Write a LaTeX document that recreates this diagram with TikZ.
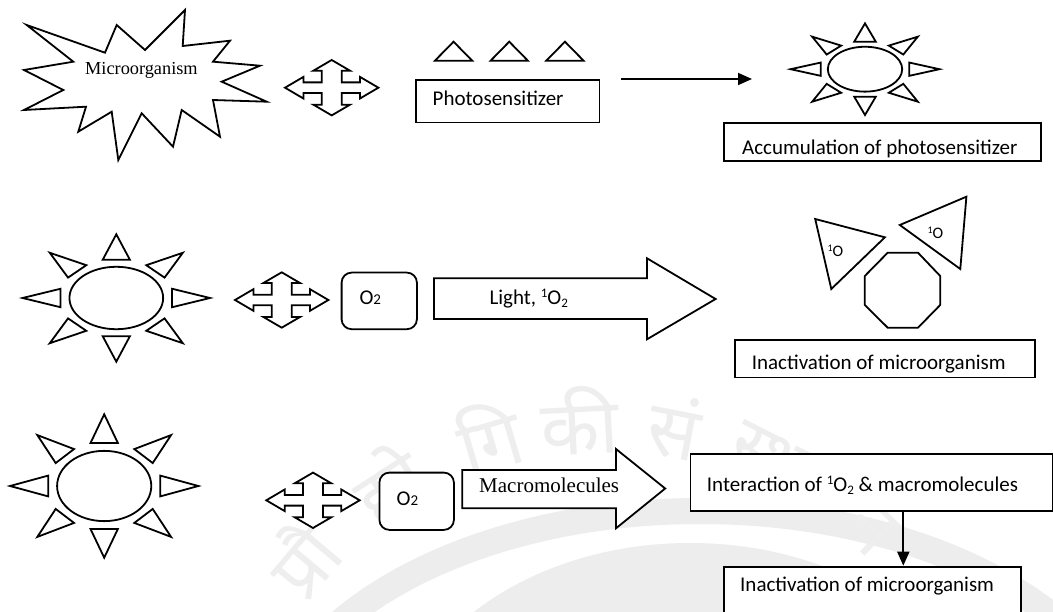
\documentclass[tikz,border=0pt]{standalone}
\usepackage{fontspec}
\setmainfont{Carlito}
\newfontfamily\romanface{Liberation Serif}
\newfontfamily\devface[Script=Devanagari]{Noto Sans}
\usetikzlibrary{arrows.meta}

% small raised "1" and lowered "2" for singlet oxygen
\newcommand\supone{\raisebox{7pt}{\fontsize{13}{13}\selectfont 1}}
\newcommand\subtwo{\raisebox{-3pt}{\fontsize{13}{13}\selectfont 2}}

\tikzset{
  shape line/.style={draw=black, line width=1.8pt, line join=miter, fill=white},
  box/.style={draw=black, line width=1.8pt, fill=white, inner sep=0pt, anchor=north west},
  txt/.style={inner sep=0pt, anchor=base west, font=\fontsize{21}{21}\selectfont},
  conn/.style={line width=1.8pt, -{Triangle[length=14pt,width=12pt]}},
  seal/.style={gray!14},
  sealtext/.style={text=gray!13, inner sep=0pt, font=\devface\fontsize{76}{76}\selectfont},
  pics/quadarrow/.style={code={
    \draw[shape line] (-46.7,0) -- (-28.3,-10.8) -- (-28.3,-5.3) -- (-10,-5.3) -- (-10,-17)
      -- (-18.3,-17) -- (0,-27.7) -- (18.3,-17) -- (10,-17) -- (10,-5.3) -- (28.3,-5.3)
      -- (28.3,-10.8) -- (46.7,0) -- (28.3,10.8) -- (28.3,5.3) -- (10,5.3) -- (10,17)
      -- (18.3,17) -- (0,27.7) -- (-18.3,17) -- (-10,17) -- (-10,5.3) -- (-28.3,5.3)
      -- (-28.3,10.8) -- cycle;
  }}
}

% sun: ellipse with eight triangular rays; centre (#1,#2), half width #3, half height #4
\newcommand\sunfigure[4]{%
  \begin{scope}[shift={(#1,#2)}, xscale=#3, yscale=#4]
    \draw[shape line] (0,0) ellipse [x radius=0.5, y radius=0.49];
    \foreach \sx in {1,-1}{
      \draw[shape line] (-0.145,\sx*0.6) -- (0.145,\sx*0.6) -- (0,\sx) -- cycle;
      \draw[shape line] (\sx*0.595,-0.145) -- (\sx*0.595,0.145) -- (\sx,0) -- cycle;
      \foreach \sy in {1,-1}{
        \draw[shape line] (\sx*0.32,\sy*0.515) -- (\sx*0.515,\sy*0.32) -- (\sx*0.71,\sy*0.71) -- cycle;
      }
    }
  \end{scope}}

\begin{document}
\begin{tikzpicture}[x=1pt, y=-1pt]
\clip (0,0) rectangle (1053,612);
\fill[white] (0,0) rectangle (1053,612);

% ---------------- faint seal in the background ----------------
\draw[seal, line width=26pt] (700,768) ellipse [x radius=437, y radius=257];
\fill[seal] (690,768) ellipse [x radius=300, y radius=225];
\foreach \ang/\syl [count=\i] in {140/{प्रौ}, 123/{द्यो}, 106.5/{गि}, 93/{की}, 79/{सं}, 63/{स्था}, 46/{न}}{
  \node[sealtext, rotate=\ang-90] (seal\i) at ({600+390*cos(\ang)},{810-390*sin(\ang)}) {\syl};
}

% ---------------- first row ----------------
\draw[shape line] (26.7,25) -- (105,52.7) -- (116.7,25) -- (145,50) -- (185,10) -- (182.7,46)
  -- (230,40.7) -- (213,61.7) -- (260,65.7) -- (221.7,81.7) -- (266.7,101.7) -- (213,100)
  -- (220,136.7) -- (181.7,110) -- (173,146.7) -- (141.7,113.3) -- (118.3,160) -- (111.7,111.7)
  -- (78.3,131.7) -- (86,106.7) -- (24,110) -- (63.3,90) -- (24,70) -- (73.3,61.7) -- cycle;
\node[txt, font=\romanface\fontsize{18.3}{18.3}\selectfont] (micro) at (85,75) {Microorganism};

\pic at (331.7,87.7) {quadarrow};

\foreach \tx in {434.9,490.6,546.3}{
  \draw[shape line] (\tx,60.7) -- (\tx+18.65,41.7) -- (\tx+37.3,60.7) -- cycle;
}
\node[box, minimum width=183.6pt, minimum height=42.7pt] (photo) at (415,79) {};
\node[txt] (phototxt) at (432.5,106) {Photosensitizer};

\coordinate (rowonestart) at (621,79);
\coordinate (rowoneend) at (752,79);
\draw[conn] (rowonestart) -- (rowoneend);

\sunfigure{865}{69.2}{74.4}{45.8}
\node[box, minimum width=317pt, minimum height=37.5pt] (accum) at (723,122.3) {};
\begin{scope}
  \clip (accum.north west) rectangle (accum.south east);
  \node[txt] (accumtxt) at (742,155) {Accumulation of photosensitizer};
\end{scope}

% ---------------- second row ----------------
\sunfigure{116.3}{298}{93.7}{63.7}
\pic at (281.7,300) {quadarrow};
\node[box, rounded corners=10pt, minimum width=75.3pt, minimum height=56.6pt] (oxa) at (340.7,271.7) {};
\node[txt] (oxatxt) at (359.3,305) {O\fontsize{15}{15}\selectfont 2};

\draw[shape line] (434,278.3) -- (647,278.3) -- (647,258.3) -- (715.6,299) -- (647,339.3)
  -- (647,319) -- (434,319) -- cycle;
\node[txt] (lighttxt) at (489.3,304.3) {Light, \supone O\subtwo};

\draw[shape line] (815.2,219) -- (884.9,237.3) -- (831.3,289) -- cycle;
\draw[shape line] (899.8,225) -- (966.4,196.7) -- (960.3,269) -- cycle;
\draw[shape line] (887.7,252.7) -- (918,252.7) -- (940.2,276) -- (940.2,305) -- (918,327.7)
  -- (887.7,327.7) -- (864.8,305) -- (864.8,276) -- cycle;
\node[txt, font=\fontsize{16}{16}\selectfont] (oleft) at (827.3,256.7)
  {\raisebox{5pt}{\fontsize{10}{10}\selectfont 1}O};
\node[txt, font=\fontsize{16}{16}\selectfont] (oright) at (927.3,238.3)
  {\raisebox{5pt}{\fontsize{10}{10}\selectfont 1}O};

\node[box, minimum width=300pt, minimum height=37.4pt] (inacta) at (733.7,339.3) {};
\begin{scope}
  \clip (inacta.north west) rectangle (inacta.south east);
  \node[txt] (inactatxt) at (751.6,370) {Inactivation of microorganism};
\end{scope}

% ---------------- third row ----------------
\sunfigure{104.2}{486}{94.2}{71.7}
\pic at (313,500.3) {quadarrow};
\node[box, rounded corners=10pt, minimum width=74.5pt, minimum height=57.3pt] (oxb) at (378.5,471.7) {};
\node[txt] (oxbtxt) at (396.5,505.7) {O\fontsize{15}{15}\selectfont 2};

\draw[shape line] (462.3,470) -- (616,470) -- (616,449) -- (665.2,488.5) -- (616,528.3)
  -- (616,508.3) -- (462.3,508.3) -- cycle;
\node[txt, font=\romanface\fontsize{21}{21}\selectfont] (macrotxt) at (479,492.3) {Macromolecules};

\node[box, minimum width=362pt, minimum height=56.4pt] (inter) at (689.5,453.3) {};
\node[txt] (intertxt) at (706.7,491.5) {Interaction of \supone O\subtwo\ \& macromolecules};

\node[box, minimum width=296.7pt, minimum height=74pt] (inactb) at (723.3,565.7) {};
\node[txt] (inactbtxt) at (740,591.5) {Inactivation of microorganism};

\coordinate (downcol) at (903.3,0);
\draw[conn] (downcol |- inter.south) -- (downcol |- inactb.north);
\end{tikzpicture}
\end{document}
